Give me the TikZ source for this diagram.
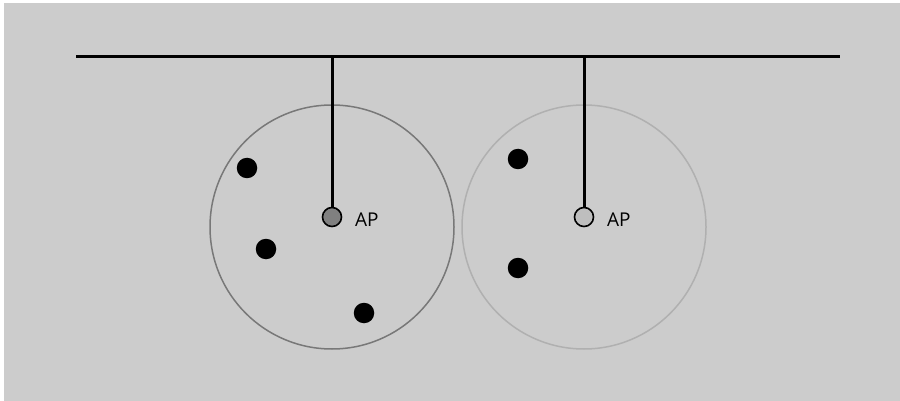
\documentclass[tikz,border=0pt]{standalone}
\usepackage{fontspec}
\setmainfont{Open Sans}
\begin{document}
\begin{tikzpicture}[x=1pt,y=-1pt,
  bus/.style={line width=3pt,black},
  cell/.style={line width=1.5pt},
  apnode/.style={circle,draw=black,line width=1.6pt,minimum size=19pt,inner sep=0pt},
  station/.style={circle,fill=black,minimum size=20.5pt,inner sep=0pt},
  aplabel/.style={anchor=base west,inner sep=0pt,font=\fontsize{19}{22}\selectfont}]
\useasboundingbox (0,0) rectangle (900,401);
\fill[white] (0,0) rectangle (900,401);
\fill[fill={rgb,255:red,204;green,204;blue,204}] (4,3) rectangle (900,401);
% cells
\draw[cell,draw={rgb,255:red,120;green,120;blue,120}] (332,227) circle[radius=122];
\draw[cell,draw={rgb,255:red,176;green,176;blue,176}] (584,227) circle[radius=122];
% bus
\coordinate (busL) at (76,57);
\coordinate (busR) at (840,57);
\coordinate (tap1) at (332,57);
\coordinate (tap2) at (584,57);
\draw[bus] (busL) -- (busR);
% access points
\node[apnode,fill={rgb,255:red,128;green,128;blue,128}] (ap1) at (332,217) {};
\node[apnode,fill={rgb,255:red,190;green,190;blue,190}] (ap2) at (584,217) {};
\draw[bus] (tap1) -- (ap1.north);
\draw[bus] (tap2) -- (ap2.north);
\node[aplabel] (l1) at (355,226) {AP};
\node[aplabel] (l2) at (607,226) {AP};
% stations
\node[station] (s1) at (247,168) {};
\node[station] (s2) at (266,249) {};
\node[station] (s3) at (364,313) {};
\node[station] (s4) at (518,159) {};
\node[station] (s5) at (518,268) {};
\end{tikzpicture}
\end{document}
